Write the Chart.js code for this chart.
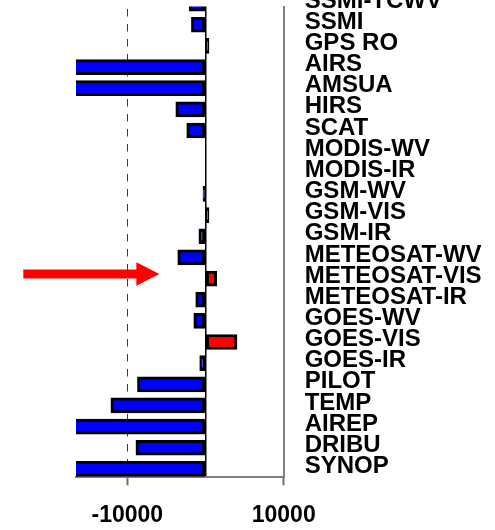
<!DOCTYPE html>
<html>
<head>
<meta charset="utf-8">
<script src="https://cdn.jsdelivr.net/npm/chart.js@4/dist/chart.umd.min.js"></script>
<style>
  html, body { margin: 0; padding: 0; background: #fff; overflow: hidden; }
  canvas { display: block; }
</style>
</head>
<body>
<canvas id="impact" width="495" height="530"></canvas>
<script>
// Observation types, top to bottom
const categories = [
  'SSMI-TCWV', 'SSMI', 'GPS RO', 'AIRS', 'AMSUA', 'HIRS', 'SCAT',
  'MODIS-WV', 'MODIS-IR', 'GSM-WV', 'GSM-VIS', 'GSM-IR',
  'METEOSAT-WV', 'METEOSAT-VIS', 'METEOSAT-IR',
  'GOES-WV', 'GOES-VIS', 'GOES-IR',
  'PILOT', 'TEMP', 'AIREP', 'DRIBU', 'SYNOP'
];

// Impact per observation type (negative = beneficial)
const impactValues = [
  -2100, -1800, 450, -19000, -18500, -3800, -2400,
  0, 0, -320, 450, -850,
  -3550, 1430, -1250,
  -1500, 4030, -740,
  -8700, -12100, -19000, -8900, -20000
];

// Labelled positions on the value axis
const xTickValues = [-10000, 0, 10000];

// Pointer arrow: from/to on the value axis, and the row it sits on
const arrowFrom = -23300;
const arrowTo = -5900;
const arrowRow = 12.785;

const FONT_FAMILY = "'Liberation Sans', Arial, Helvetica, sans-serif";
const X_FONT = { family: FONT_FAMILY, size: 23, weight: 'bold' };
const Y_FONT = { family: FONT_FAMILY, size: 24, weight: 'bold' };

const pointerArrow = {
  id: 'pointerArrow',
  afterDatasetsDraw(chart) {
    const { ctx, scales: { x, y } } = chart;
    const x0 = x.getPixelForValue(arrowFrom);
    const x1 = x.getPixelForValue(arrowTo);
    const yc = y.getPixelForValue(arrowRow);
    const headLen = 23, headHalf = 11.7, shaftHalf = 4.5;
    ctx.save();
    ctx.fillStyle = '#ff0000';
    ctx.beginPath();
    ctx.moveTo(x0, yc - shaftHalf);
    ctx.lineTo(x1 - headLen, yc - shaftHalf);
    ctx.lineTo(x1 - headLen, yc - headHalf);
    ctx.lineTo(x1, yc);
    ctx.lineTo(x1 - headLen, yc + headHalf);
    ctx.lineTo(x1 - headLen, yc + shaftHalf);
    ctx.lineTo(x0, yc + shaftHalf);
    ctx.closePath();
    ctx.fill();
    ctx.restore();
  }
};

// Keep the plot area fixed: no extra room reserved for edge tick labels
const noEdgePadding = s => {
  s.paddingTop = 0; s.paddingBottom = 0;
  s.paddingLeft = 0; s.paddingRight = 0;
};

new Chart(document.getElementById('impact'), {
  type: 'bar',
  data: {
    datasets: [{
      data: categories.map((c, i) => ({ x: impactValues[i], y: i })),
      backgroundColor: impactValues.map(v => v > 0 ? '#ff0000' : '#0000ff'),
      borderColor: '#000000',
      borderWidth: 3,
      borderSkipped: false,
      barThickness: 15,
      clip: 0
    }]
  },
  options: {
    indexAxis: 'y',
    responsive: false,
    devicePixelRatio: 1,
    animation: false,
    events: [],
    layout: {
      autoPadding: false,
      padding: { left: 76, top: 6.5, right: 0, bottom: 0 }
    },
    plugins: {
      legend: { display: false },
      tooltip: { enabled: false },
      title: { display: false }
    },
    scales: {
      x: {
        type: 'linear',
        position: 'bottom',
        min: -16560,
        max: 10000,
        afterBuildTicks: s => { s.ticks = xTickValues.map(v => ({ value: v })); },
        afterFit: s => { s.height = 52.7; noEdgePadding(s); },
        ticks: {
          font: X_FONT,
          color: '#000000',
          padding: 17,
          maxRotation: 0,
          autoSkip: false,
          callback: v => v === 0 ? '' : String(v)
        },
        grid: {
          drawTicks: true,
          tickLength: 8,
          color: c => c.tick && c.tick.value === 0 ? '#000000'
                    : (c.tick && c.tick.value === -10000 ? '#3a3a3a' : 'rgba(0,0,0,0)'),
          lineWidth: c => c.tick && c.tick.value === 0 ? 1.5 : 1,
          tickColor: c => c.tick && c.tick.value === 0 ? 'rgba(0,0,0,0)' : '#707070',
          tickWidth: 2
        },
        border: {
          display: true,
          color: '#808080',
          width: 2,
          dash: c => c.tick && c.tick.value === -10000 ? [7.5, 7.5] : [],
          dashOffset: 12.5
        }
      },
      y: {
        type: 'linear',
        position: 'right',
        reverse: true,
        offset: false,
        min: 0.137,
        max: 22.397,
        afterBuildTicks: s => { s.ticks = categories.map((c, i) => ({ value: i })); },
        afterFit: s => { s.width = 211.3; noEdgePadding(s); },
        ticks: {
          font: Y_FONT,
          color: '#000000',
          padding: 21,
          labelOffset: -2.5,
          autoSkip: false,
          callback: v => categories[v]
        },
        grid: { display: false, drawTicks: false, offset: false },
        border: { display: true, color: '#808080', width: 2 }
      }
    }
  },
  plugins: [pointerArrow]
});
</script>
</body>
</html>
